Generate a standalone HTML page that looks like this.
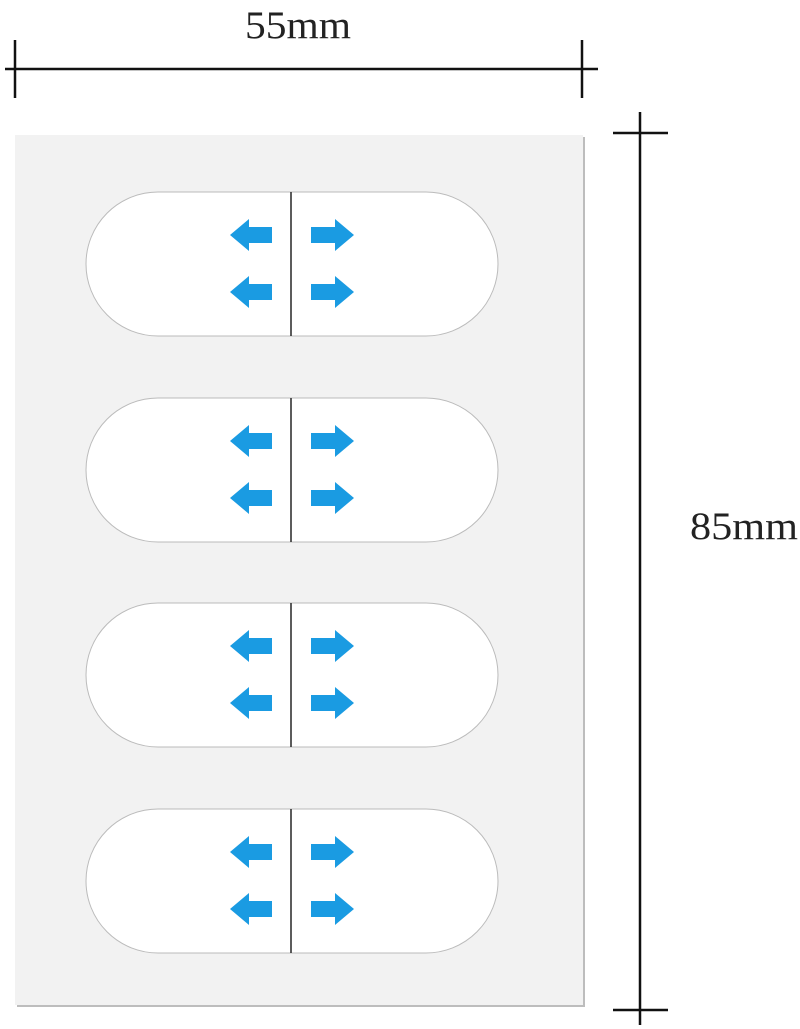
<!DOCTYPE html>
<html><head><style>
html,body{margin:0;padding:0;background:#fff;width:800px;height:1029px;overflow:hidden}
</style></head><body>
<svg width="800" height="1029" viewBox="0 0 800 1029" xmlns="http://www.w3.org/2000/svg">
<defs>
<g id="pill">
<rect x="86" y="0" width="412" height="144" rx="72" fill="#fff" stroke="#bbb" stroke-width="1"/>
<line x1="291" y1="0" x2="291" y2="144" stroke="#333" stroke-width="1.6"/>
<g fill="#1a9be2">
<polygon points="230,43 249,27 249,35 272,35 272,51 249,51 249,59"/>
<polygon points="230,100 249,84 249,92 272,92 272,108 249,108 249,116"/>
<polygon points="354,43 335,27 335,35 311,35 311,51 335,51 335,59"/>
<polygon points="354,100 335,84 335,92 311,92 311,108 335,108 335,116"/>
</g>
</g>
</defs>
<rect x="17" y="137" width="568" height="870" fill="#bdbdbd"/>
<rect x="15" y="135" width="568" height="870" fill="#f2f2f2"/>
<use href="#pill" y="192"/>
<use href="#pill" y="398"/>
<use href="#pill" y="603"/>
<use href="#pill" y="809"/>
<g stroke="#111" stroke-width="2.5">
<line x1="5" y1="69" x2="598" y2="69"/>
<line x1="15" y1="40" x2="15" y2="98"/>
<line x1="582" y1="40" x2="582" y2="98"/>
<line x1="640" y1="112" x2="640" y2="1025"/>
<line x1="613" y1="133" x2="668" y2="133"/>
<line x1="613" y1="1010" x2="668" y2="1010"/>
</g>
<text x="298" y="38" font-family="Liberation Serif, serif" font-size="39" text-anchor="middle" fill="#222" textLength="106" lengthAdjust="spacingAndGlyphs">55mm</text>
<text x="690" y="539" font-family="Liberation Serif, serif" font-size="39" fill="#222" textLength="108" lengthAdjust="spacingAndGlyphs">85mm</text>
</svg>
</body></html>
